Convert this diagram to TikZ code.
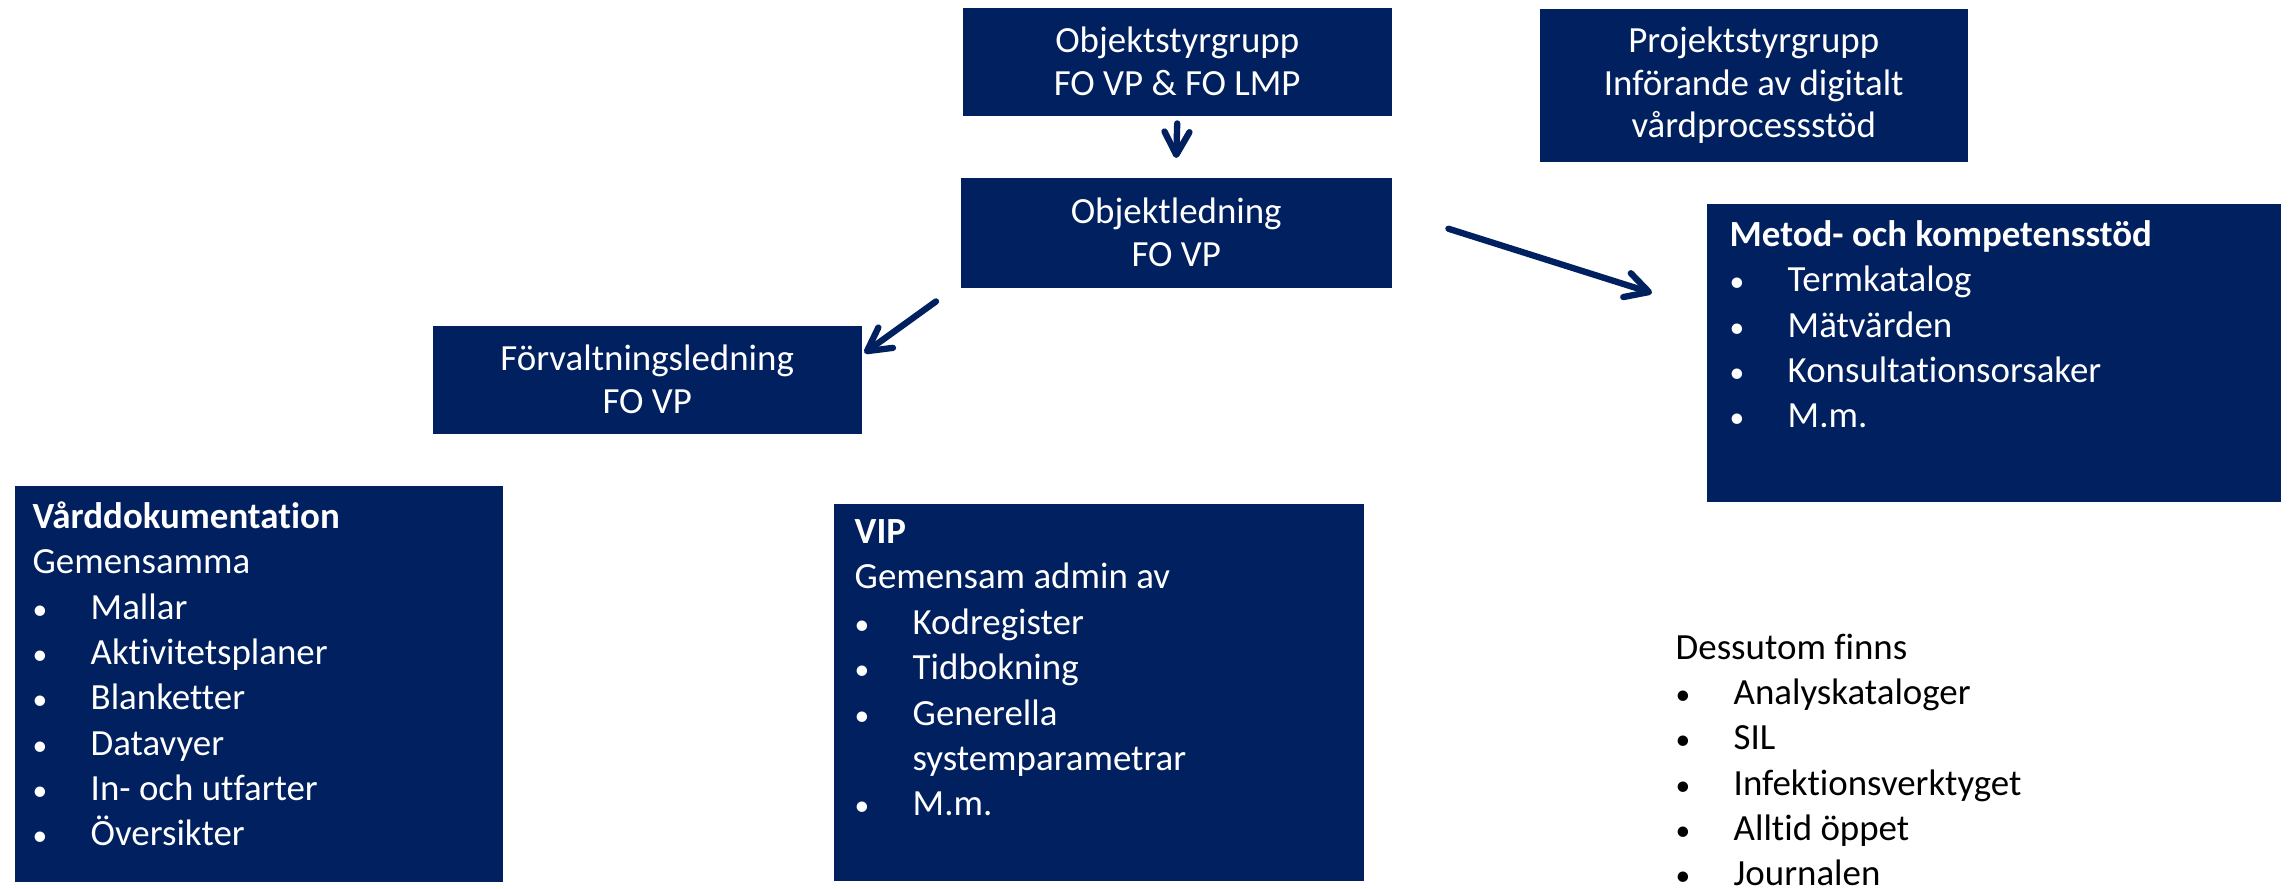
\documentclass[tikz,border=0pt]{standalone}
\usepackage{fontspec}
\setmainfont{Carlito}[Ligatures=NoCommon]
\usetikzlibrary{arrows.meta,positioning}
\definecolor{navy}{HTML}{002060}
\newcommand{\bul}{\makebox[0.58cm][l]{\scalebox{0.8}{\textbullet}}}

\begin{document}
\begin{tikzpicture}[
  font=\fontsize{10.5}{12.2}\selectfont,
  blk/.style={fill=navy, text=white, align=center, inner sep=0pt, anchor=north west},
  lst/.style={text=white, align=left, inner sep=0pt, anchor=north west,
    font=\fontsize{10.5}{12.9}\selectfont, execute at begin node={\rule{0pt}{9pt}}},
  arr/.style={-{Straight Barb[length=2.3mm,width=2.5mm,round]}, line width=1.8pt, draw=navy, line cap=round},
]
\useasboundingbox (0,0) rectangle (22.92,-8.88);
% boxes
\node[blk, minimum width=4.29cm, minimum height=1.08cm] (osg) at (9.62,-0.07) {Objektstyrgrupp\\FO VP \& FO LMP};
\node[blk, minimum width=4.31cm, minimum height=1.10cm] (ol)  at (9.60,-1.77) {Objektledning\\FO VP};
\node[blk, minimum width=4.28cm, minimum height=1.53cm] (psg) at (15.39,-0.08) {Projektstyrgrupp\\Införande av digitalt\\vårdprocessstöd};
\node[blk, minimum width=4.29cm, minimum height=1.08cm] (fl)  at (4.32,-3.25) {Förvaltningsledning\\FO VP};
\node[blk, minimum width=5.74cm, minimum height=2.98cm] (mk)  at (17.06,-2.03) {};
\node[blk, minimum width=4.88cm, minimum height=3.96cm] (vd)  at (0.14,-4.85) {};
\node[blk, minimum width=5.30cm, minimum height=3.77cm] (vip) at (8.33,-5.03) {};
% texts in boxes
\node[lst] (mktxt) at ([shift={(0.23,-0.17)}]mk.north west)
  {\textbf{Metod- och kompetensstöd}\\\bul Termkatalog\\\bul Mätvärden\\\bul Konsultationsorsaker\\\bul M.m.};
\node[lst] (vdtxt) at ([shift={(0.18,-0.16)}]vd.north west)
  {\textbf{Vårddokumentation}\\Gemensamma\\\bul Mallar\\\bul Aktivitetsplaner\\\bul Blanketter\\\bul Datavyer\\\bul In- och utfarter\\\bul Översikter};
\node[lst] (viptxt) at ([shift={(0.21,-0.16)}]vip.north west)
  {\textbf{VIP}\\Gemensam admin av\\\bul Kodregister\\\bul Tidbokning\\\bul Generella\\\hspace*{0.58cm}systemparametrar\\\bul M.m.};
\node[lst, text=black] (extra) at (16.75,-6.33)
  {Dessutom finns\\\bul Analyskataloger\\\bul SIL\\\bul Infektionsverktyget\\\bul Alltid öppet\\\bul Journalen};
% arrows
\draw[arr] ([yshift=-0.7mm]osg.south) -- ([yshift=1.9mm]ol.north);
\draw[arr] ([shift={(-0.24,-0.13)}]ol.south west) -- ([shift={(0.02,-0.28)}]fl.north east);
\draw[arr] ([shift={(0.56,0.04)}]ol.east) -- ([shift={(-0.54,-0.90)}]mk.north west);
\end{tikzpicture}
\end{document}
